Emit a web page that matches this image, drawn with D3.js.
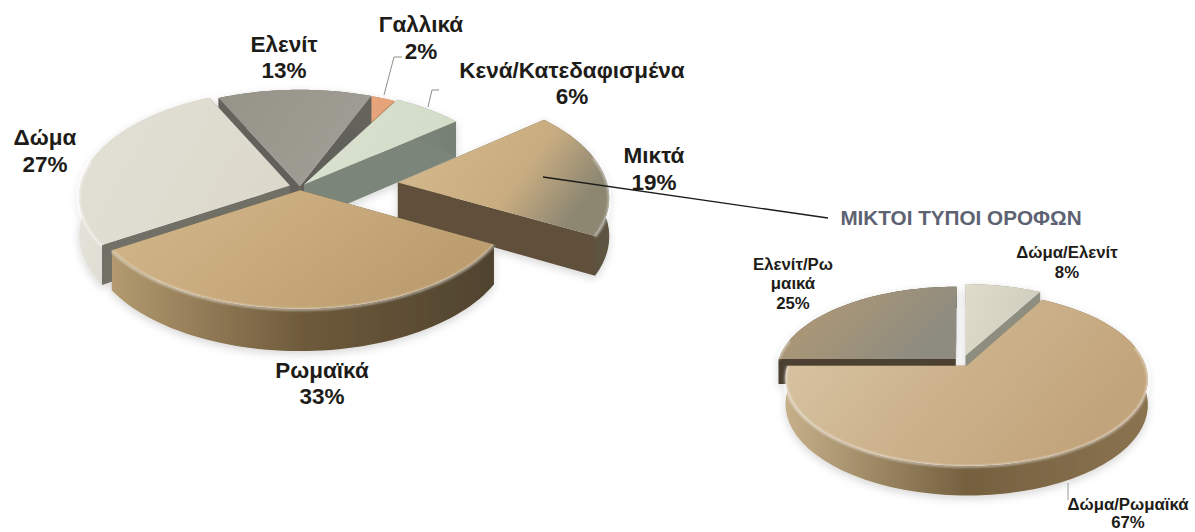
<!DOCTYPE html>
<html>
<head>
<meta charset="utf-8">
<script src="https://cdn.jsdelivr.net/npm/d3@7"></script>
<style>
  html, body { margin: 0; padding: 0; background: #fff; }
  svg { display: block; }
  text { font-family: "Liberation Sans", Arial, sans-serif; font-weight: bold; text-anchor: middle; fill: #1e1c18; }
</style>
</head>
<body>
<svg></svg>
<script>
// the data
var mainCategories = ["Κενά/Κατεδαφισμένα", "Μικτά", "Ρωμαϊκά", "Δώμα", "Ελενίτ", "Γαλλικά"];
var mainValues = [6, 19, 33, 27, 13, 2];
var subCategories = ["Δώμα/Ελενίτ", "Δώμα/Ρωμαϊκά", "Ελενίτ/Ρωμαικά"];
var subValues = [8, 67, 25];
var subTitle = "ΜΙΚΤΟΙ ΤΥΠΟΙ ΟΡΟΦΩΝ";

var width = 1195, height = 532;

var svg = d3.select("svg").attr("width", width).attr("height", height);
var defs = svg.append("defs");

// slight softness plus a faint shadow under the pies
var soft = defs.append("filter").attr("id", "soft")
  .attr("x", "-10%").attr("y", "-10%").attr("width", "120%").attr("height", "125%");
soft.append("feGaussianBlur").attr("stdDeviation", 0.5).attr("result", "b");
soft.append("feDropShadow").attr("in", "b").attr("dx", 0).attr("dy", 3)
  .attr("stdDeviation", 4).attr("flood-color", "#000").attr("flood-opacity", 0.16);
defs.append("filter").attr("id", "rim").append("feGaussianBlur").attr("stdDeviation", 1.1);

// look of each pie: center, radii, wall height, perspective, and per slice styling
var mainPie = {
  id: "m", cx: 300, cy: 187, rx: 210, ry: 106, depth: 38, k: 0.1, start: 29,
  order: [5, 4, 0, 3, 1, 2],
  explode: [0.03, 0.47, 0.03, 0.05, 0.01, 0.01],
  top: [["#dbe3d0", "#d3dcc8"], ["#d4bb92", "#d0b488", "#c9ad81", "#8d8772"], ["#d2b88e", "#c9ab7d", "#bb9d6f"], ["#e2dfd5", "#dcd9cc"], ["#969389", "#a09d94"], ["#eeb088", "#e4a077"]],
  wall: [["#7d8679", "#778075"], ["#6b5c43", "#5a4d38", "#5e5644"], ["#b39a70", "#6e5a3b", "#4f432f"], ["#e4e3d9", "#c8c6ba"], ["#66645c", "#66645c"], ["#c08a66", "#c08a66"]],
  cut: ["#7c857a", "#5e503a", "#6a5a40", "#6f6f66", "#62605a", "#b08060"]
};
var subPie = {
  id: "s", cx: 962, cy: 362, rx: 178, ry: 84, depth: 25, k: 0.15, start: 0,
  order: [0, 2, 1],
  explode: [0.08, 0.05, 0.05],
  top: [["#dfdccb", "#cfcdbd"], ["#dac8a8", "#cdb48e", "#c2a47b"], ["#b69b72", "#8e8c80"]],
  wall: [["#8d8e80", "#8d8e80"], ["#c5b08a", "#75603f", "#8a7350"], ["#4c4030", "#4c4030"]],
  cut: ["#8d8e80", "#75603f", "#4c4030"]
};

var line = d3.line();

function addStops(grad, colors) {
  colors.forEach(function(c, n) {
    grad.append("stop").attr("offset", (100 * n / (colors.length - 1)) + "%").attr("stop-color", c);
  });
}

function drawPie(cfg, values) {
  var slices = d3.pie().sort(null)
    .startAngle(cfg.start * Math.PI / 180)
    .endAngle((cfg.start + 360) * Math.PI / 180)(values);

  var g = svg.append("g").attr("filter", "url(#soft)");

  cfg.order.forEach(function(i) {
    var s = slices[i];
    var mid = (s.startAngle + s.endAngle) / 2;
    var ou = cfg.explode[i] * Math.sin(mid), ov = -cfg.explode[i] * Math.cos(mid);

    // plane position to screen, z = 0 top face, z = 1 bottom face
    var project = function(r, a, z) {
      var u = ou + r * Math.sin(a), v = ov - r * Math.cos(a);
      var w = 1 / (1 - cfg.k * v);
      return [cfg.cx + cfg.rx * u * w, cfg.cy + cfg.ry * v * w + cfg.depth * w * z];
    };

    var angles = d3.range(0, 61).map(function(n) {
      return s.startAngle + (s.endAngle - s.startAngle) * n / 60;
    });
    var edge = function(z) { return angles.map(function(a) { return project(1, a, z); }); };

    addStops(defs.append("linearGradient").attr("id", cfg.id + "top" + i)
      .attr("x1", 0).attr("y1", 0).attr("x2", 1).attr("y2", 0.4), cfg.top[i]);

    var xs = d3.extent(edge(0), function(p) { return p[0]; });
    addStops(defs.append("linearGradient").attr("id", cfg.id + "wall" + i)
      .attr("gradientUnits", "userSpaceOnUse")
      .attr("x1", xs[0]).attr("y1", 0).attr("x2", xs[1]).attr("y2", 0), cfg.wall[i]);

    // cut faces, the one further back first
    [s.startAngle, s.endAngle]
      .sort(function(a, b) { return Math.cos(b) - Math.cos(a); })
      .forEach(function(a) {
        g.append("path")
          .attr("d", line([project(0, a, 0), project(1, a, 0), project(1, a, 1), project(0, a, 1)]) + "Z")
          .attr("fill", cfg.cut[i]);
      });

    // outer wall
    g.append("path")
      .attr("d", line(edge(0).concat(edge(1).reverse())) + "Z")
      .attr("fill", "url(#" + cfg.id + "wall" + i + ")");

    // top face
    g.append("path")
      .attr("d", line([project(0, 0, 0)].concat(edge(0))) + "Z")
      .attr("fill", "url(#" + cfg.id + "top" + i + ")");

    // bevel along the front of the rim
    var front = angles.filter(function(a) { return Math.cos(a) < 0.25; });
    if (front.length > 1) {
      g.append("path")
        .attr("d", line(front.map(function(a) { return project(1, a, 0.02); })))
        .attr("fill", "none")
        .attr("stroke", "#fff")
        .attr("stroke-opacity", 0.6)
        .attr("stroke-width", 2)
        .attr("filter", "url(#rim)");
    }
  });
}

drawPie(mainPie, mainValues);
drawPie(subPie, subValues);

// leader lines
var leaders = [
  {pts: [[543, 177], [828, 218]], color: "#1c1c1c", w: 1.3},
  {pts: [[384, 95], [394, 57], [402, 57]], color: "#8f8f88", w: 1},
  {pts: [[428, 107], [432, 90], [439, 90]], color: "#8d8d85", w: 1},
  {pts: [[1068, 483], [1068, 500]], color: "#9a9a92", w: 1}
];
leaders.forEach(function(d) {
  svg.append("path").attr("d", line(d.pts))
    .attr("fill", "none").attr("stroke", d.color).attr("stroke-width", d.w);
});

// labels: text comes from the arrays, placement stays here
function label(lines, x, baselines, size) {
  lines.forEach(function(t, i) {
    svg.append("text").attr("x", x).attr("y", baselines[i])
      .style("font-size", size + "px").text(t);
  });
}
label([mainCategories[4], mainValues[4] + "%"], 284, [52, 78], 22.5);
label([mainCategories[5], mainValues[5] + "%"], 421, [32, 59], 22.5);
label([mainCategories[0], mainValues[0] + "%"], 572, [78, 104], 22.5);
label([mainCategories[1], mainValues[1] + "%"], 654, [163, 190], 22.5);
label([mainCategories[3], mainValues[3] + "%"], 45, [145, 172], 22.5);
label([mainCategories[2], mainValues[2] + "%"], 322, [378, 404], 22.5);

label([subCategories[0], subValues[0] + "%"], 1067, [258, 278], 16.8);
label(["Ελενίτ/Ρω", "μαικά", subValues[2] + "%"], 793, [270, 289, 309], 16.8);
label([subCategories[1], subValues[1] + "%"], 1128, [510, 528], 16.8);

svg.append("text").attr("x", 961).attr("y", 225)
  .style("font-size", "20.7px").style("fill", "#5d6272").text(subTitle);
</script>
</body>
</html>
